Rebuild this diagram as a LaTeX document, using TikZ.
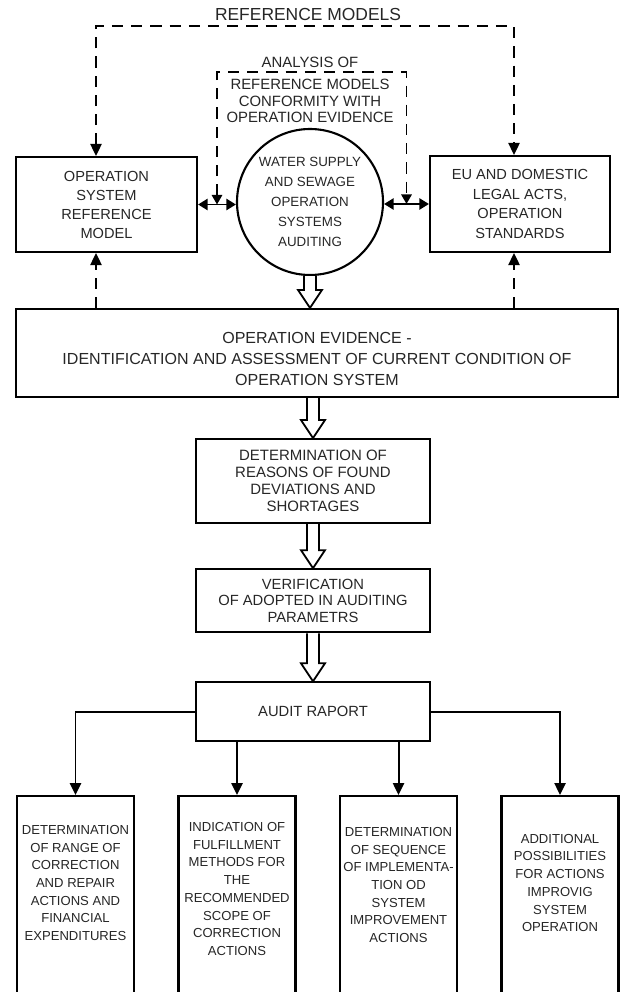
\documentclass[tikz,border=0pt]{standalone}
\usepackage{fontspec}
\setmainfont{Liberation Sans}
\usetikzlibrary{arrows.meta, positioning, calc}

% big hollow arrow between two anchors (straight down)
\newcommand{\hollowarrow}[2]{%
  \draw[line width=1.3pt, fill=white] let \p1=(#1), \p2=(#2) in
    (\x1-0.15cm,\y1) -- (\x1-0.15cm,\y2+0.45cm) -- (\x1-0.3cm,\y2+0.45cm)
    -- (\x1,\y2) -- (\x1+0.3cm,\y2+0.45cm) -- (\x1+0.15cm,\y2+0.45cm) -- (\x1+0.15cm,\y1);}

\begin{document}
\begin{tikzpicture}[
    node distance=1cm,
    box/.style={draw, line width=1.5pt, align=center, inner sep=1pt, text=black!85},
    outbox/.style={draw, line width=1.5pt, minimum width=2.925cm, minimum height=5.3cm, anchor=north},
    outtxt/.style={align=center, text=black!85, font=\fontsize{9.3pt}{12.6pt}\selectfont},
    arrow/.style={-{Triangle[length=3mm, width=2.8mm]}, line width=1.4pt},
    dblarrow/.style={{Triangle[length=2.4mm, width=2.8mm]}-{Triangle[length=2.4mm, width=2.8mm]}, line width=1.4pt},
    dashline/.style={line width=1.4pt, dash pattern=on 0.28cm off 0.2cm}
]
    \useasboundingbox (0,0) rectangle (15.525,-24.8);

    % top row
    \node[box, minimum width=4.525cm, minimum height=2.375cm, font=\fontsize{10.4pt}{13.5pt}\selectfont] (osrm) at (2.6625,-5.1125) {OPERATION\\SYSTEM\\REFERENCE\\MODEL};
    \node[box, circle, inner sep=0pt, minimum size=3.65cm, font=\fontsize{9.5pt}{14.2pt}\selectfont] (wss) at (7.75,-5.05) {WATER SUPPLY\\AND SEWAGE\\OPERATION\\SYSTEMS\\AUDITING};
    \node[box, minimum width=4.5cm, minimum height=2.4cm, font=\fontsize{10.4pt}{13.8pt}\selectfont] (legal) at (13.0,-5.1) {EU AND DOMESTIC\\LEGAL ACTS,\\OPERATION\\STANDARDS};

    \coordinate (lx) at (2.4,0);
    \coordinate (rx) at (12.85,0);
    \coordinate (topln) at (7.7,-0.65);
    \coordinate (anlln) at (7.75,-1.8);
    \node[above=0pt of topln, text=black!85, font=\fontsize{12.4pt}{15pt}\selectfont] (refm) {REFERENCE MODELS};
    \node[align=center, text=black!85, font=\fontsize{10.6pt}{12pt}\selectfont] (anl) at (7.75,-2.25) {ANALYSIS OF\\[3.6pt]REFERENCE MODELS\\CONFORMITY WITH\\OPERATION EVIDENCE};

    % main chain
    \node[box, minimum width=15.05cm, minimum height=2.2cm, font=\fontsize{11.4pt}{15pt}\selectfont] (evid) at (7.925,-8.825) {\rule{0pt}{17pt}OPERATION EVIDENCE -\\IDENTIFICATION AND ASSESSMENT OF CURRENT CONDITION OF\\OPERATION SYSTEM};
    \node[box, minimum width=5.85cm, minimum height=2.1cm, below=1cm of evid, xshift=-0.1cm, font=\fontsize{10.65pt}{12pt}\selectfont] (det) {DETERMINATION OF\\REASONS OF FOUND\\DEVIATIONS AND\\SHORTAGES};
    \node[box, minimum width=5.85cm, minimum height=1.575cm, below=1.1cm of det, font=\fontsize{10.5pt}{11.8pt}\selectfont] (ver) {VERIFICATION\\OF ADOPTED IN AUDITING\\PARAMETRS};
    \node[box, minimum width=5.85cm, minimum height=1.475cm, below=1.2cm of ver, font=\fontsize{10.5pt}{12pt}\selectfont] (raport) {AUDIT RAPORT};

    % outcomes
    \node[outbox] (out1) at (1.8875,-19.875) {};
    \node[outbox, right=1.06cm of out1] (out2) {};
    \node[outbox, right=1.06cm of out2] (out3) {};
    \node[outbox, right=1.06cm of out3] (out4) {};
    \node[outtxt] (out1t) at ($(out1.north)+(0,-2.2)$) {DETERMINATION\\OF RANGE OF\\CORRECTION\\AND REPAIR\\ACTIONS AND\\FINANCIAL\\EXPENDITURES};
    \node[outtxt] (out2t) at ($(out2.north)+(0,-2.35)$) {INDICATION OF\\FULFILLMENT\\METHODS FOR\\THE\\RECOMMENDED\\SCOPE OF\\CORRECTION\\ACTIONS};
    \node[outtxt] (out3t) at ($(out3.north)+(0,-2.25)$) {DETERMINATION\\OF SEQUENCE\\OF IMPLEMENTA-\\TION OD\\SYSTEM\\IMPROVEMENT\\ACTIONS};
    \node[outtxt] (out4t) at ($(out4.north)+(0,-2.2)$) {ADDITIONAL\\POSSIBILITIES\\FOR ACTIONS\\IMPROVIG\\SYSTEM\\OPERATION};

    % dashed links
    \draw[dashline, {Triangle[length=3mm, width=2.8mm]}-{Triangle[length=3mm, width=2.8mm]}] (osrm.north -| lx) |- (topln) -| (legal.north -| rx);
    \coordinate (la) at ($(osrm.east)!0.5!(osrm.east -| wss.west)$);
    \coordinate (ra) at ($(legal.west)!0.5!(legal.west -| wss.east)$);
    \draw[dashline, {Triangle[length=2.4mm, width=2.6mm]}-{Triangle[length=2.4mm, width=2.6mm]}] (la) |- (anlln) -| (ra);
    \draw[dashline, -{Triangle[length=3mm, width=2.8mm]}] (evid.north -| lx) -- (osrm.south -| lx);
    \draw[dashline, -{Triangle[length=3mm, width=2.8mm]}] (evid.north -| rx) -- (legal.south -| rx);

    \draw[dblarrow] (osrm.east) -- (osrm.east -| wss.west);
    \draw[dblarrow] (legal.west) -- (legal.west -| wss.east);

    \hollowarrow{wss.south}{evid.north}
    \hollowarrow{evid.south -| det.north}{det.north}
    \hollowarrow{det.south}{ver.north}
    \hollowarrow{ver.south}{raport.north}

    \draw[arrow] (raport.west) -| (out1.north);
    \draw[arrow] (raport.south -| out2.north) -- (out2.north);
    \draw[arrow] (raport.south -| out3.north) -- (out3.north);
    \draw[arrow] (raport.east) -| (out4.north);
\end{tikzpicture}
\end{document}
